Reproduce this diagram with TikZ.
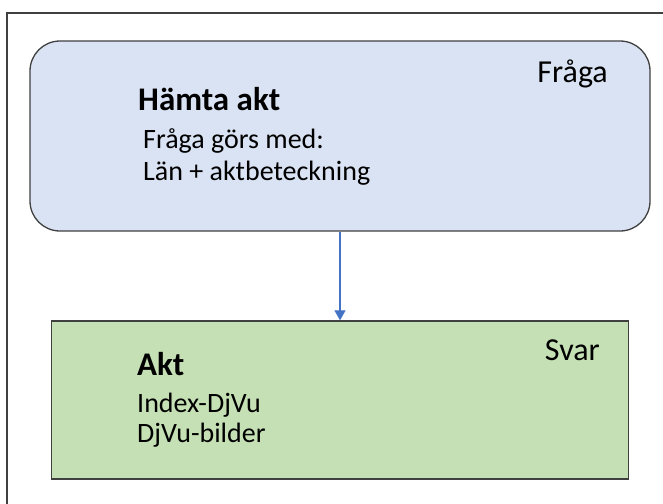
\documentclass[tikz,border=0pt]{standalone}
\usepackage{fontspec}
\setmainfont{Carlito}
\usetikzlibrary{arrows.meta}

\definecolor{fragafill}{HTML}{DAE3F3}
\definecolor{svarfill}{HTML}{C5E0B4}
\definecolor{pil}{HTML}{4472C4}
\definecolor{kant}{HTML}{404040}

\tikzset{
  ruta/.style = {draw = kant, line width = 1.3pt, inner sep = 0pt},
  rubrik/.style = {anchor = base west, inner sep = 0pt, font = \fontsize{33}{36}\selectfont\bfseries},
  rad/.style = {anchor = base west, inner sep = 0pt, font = \fontsize{28}{32}\selectfont},
  etikett/.style = {anchor = base east, inner sep = 0pt, font = \fontsize{32}{36}\selectfont}
}

\begin{document}
\begin{tikzpicture}[x = 1pt, y = -1pt]
\useasboundingbox (0, 0) rectangle (663, 503);
\clip (0, 0) rectangle (663, 503);
\draw [kant, line width = 1.3pt] (7, 13) rectangle (720, 560);

\node [ruta, fill = fragafill, rounded corners = 30pt, minimum width = 620pt, minimum height = 190pt] (fraga) at (340, 136) {};
\node [ruta, fill = svarfill, minimum width = 577pt, minimum height = 158pt] (svar) at (340, 400) {};

\draw [pil, line width = 1.2pt, -{Triangle[width = 11pt, length = 10pt]}] (fraga.south) -- (svar.north);

\node [etikett] (fraga-etikett) at (608, 82) {Fråga};
\node [rubrik] (hamta) at (138, 110) {Hämta akt};
\node [rad] (fraga-rad1) at (143, 148) {Fråga görs med:};
\node [rad] (fraga-rad2) at (143, 180) {Län + aktbeteckning};

\node [etikett] (svar-etikett) at (600, 360) {Svar};
\node [rubrik] (akt) at (137, 375) {Akt};
\node [rad] (svar-rad1) at (137, 412) {Index-DjVu};
\node [rad] (svar-rad2) at (137, 442) {DjVu-bilder};
\end{tikzpicture}
\end{document}
